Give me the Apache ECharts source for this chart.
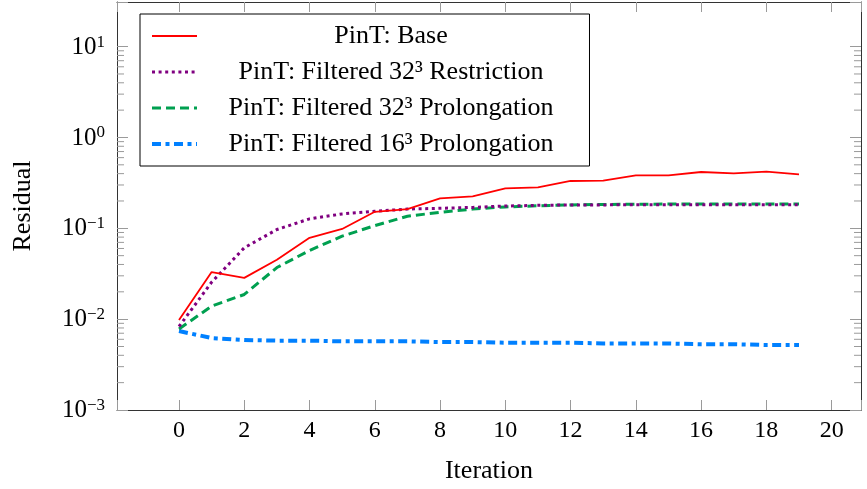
<!DOCTYPE html>
<html>
<head>
<meta charset="utf-8">
<script src="https://cdn.jsdelivr.net/npm/echarts@6/dist/echarts.min.js"></script>
<style>html,body{margin:0;padding:0;background:#fff;}#chart{width:867px;height:489px;}</style>
</head>
<body>
<div id="chart"></div>
<script>
// ---- data ----
const iterations = [0,1,2,3,4,5,6,7,8,9,10,11,12,13,14,15,16,17,18,19];
const seriesNames = ['PinT: Base', 'PinT: Filtered 32³ Restriction', 'PinT: Filtered 32³ Prolongation', 'PinT: Filtered 16³ Prolongation'];
const baseValues = [0.0098,0.0330,0.0285,0.0450,0.0785,0.0984,0.152,0.163,0.214,0.225,0.275,0.282,0.332,0.335,0.382,0.382,0.417,0.402,0.420,0.392];
const restr32Values = [0.0083,0.0255,0.061,0.097,0.127,0.144,0.154,0.163,0.166,0.170,0.176,0.179,0.181,0.181,0.182,0.182,0.182,0.182,0.182,0.182];
const prolong32Values = [0.0078,0.0139,0.0187,0.037,0.057,0.082,0.107,0.136,0.150,0.163,0.172,0.177,0.181,0.183,0.184,0.185,0.185,0.185,0.185,0.185];
const prolong16Values = [0.0074,0.0062,0.0059,0.0058,0.0058,0.0057,0.0057,0.0057,0.0056,0.0056,0.0055,0.0055,0.0055,0.0054,0.0054,0.0054,0.0053,0.0053,0.0052,0.0052];
const xLabelValues = [0,2,4,6,8,10,12,14,16,18,20];
const minorTickValues = [0.002,0.003,0.004,0.005,0.006,0.007,0.008,0.009,
  0.02,0.03,0.04,0.05,0.06,0.07,0.08,0.09,
  0.2,0.3,0.4,0.5,0.6,0.7,0.8,0.9,
  2,3,4,5,6,7,8,9];
const xAxisTitle = 'Iteration';
const yAxisTitle = 'Residual';

// ---- chart ----
const FONT = "'Liberation Serif', 'Times New Roman', serif";
const X_MIN = -1.9, X_MAX = 20.9, Y_MIN = 0.001, Y_MAX = 31;
const colors = ['#ff0000', '#800080', '#00a050', '#0080ff'];
const lineStyles = [
  {width: 1.8, type: 'solid'},
  {width: 3, type: [3, 3.6], cap: 'butt'},
  {width: 3, type: [9, 5], cap: 'butt'},
  {width: 4, type: [9, 4.5, 4, 4.5], cap: 'butt'}
];
const dataSets = [baseValues, restr32Values, prolong32Values, prolong16Values];

const chart = echarts.init(document.getElementById('chart'), null, {renderer: 'canvas'});

function pair(arr) { return iterations.map((x, k) => [x, arr[k]]); }

const lineSeries = seriesNames.map((name, i) => ({
  name: name,
  type: 'line',
  data: pair(dataSets[i]),
  symbol: 'none',
  showSymbol: false,
  color: colors[i],
  itemStyle: {color: colors[i]},
  lineStyle: Object.assign({color: colors[i]}, lineStyles[i]),
  z: 10 - i,
  silent: true
}));

const tickColor = '#9a9a9a';
const frameColor = '#333';

const xAxisBase = {
  type: 'value', min: X_MIN, max: X_MAX, splitNumber: 11,
  splitLine: {show: false},
  axisLine: {show: true, onZero: false, lineStyle: {color: frameColor, width: 1}},
  axisTick: {show: true, inside: true, length: 10, lineStyle: {color: tickColor, width: 1}},
};
const yAxisBase = {
  type: 'log', logBase: 10, min: Y_MIN, max: Y_MAX,
  splitLine: {show: false},
  axisLine: {show: true, onZero: false, lineStyle: {color: frameColor, width: 1}},
  axisTick: {show: true, inside: true, length: 11, lineStyle: {color: tickColor, width: 1}},
};

function isXLabel(v) { return xLabelValues.indexOf(Math.round(v * 1000) / 1000) >= 0; }

const option = {
  animation: false,
  backgroundColor: '#fff',
  grid: {left: 117, right: 6, top: 2, bottom: 79, containLabel: false},
  xAxis: [
    Object.assign({}, xAxisBase, {
      position: 'bottom',
      name: xAxisTitle, nameLocation: 'middle', nameGap: 48,
      nameTextStyle: {fontFamily: FONT, fontSize: 26, color: '#000'},
      axisLabel: {
        show: true, margin: 9, fontFamily: FONT, fontSize: 24, color: '#000',
        formatter: v => isXLabel(v) ? String(Math.round(v)) : ''
      }
    }),
    Object.assign({}, xAxisBase, {position: 'top', axisLabel: {show: false}})
  ],
  yAxis: [
    Object.assign({}, yAxisBase, {
      position: 'left',
      name: yAxisTitle, nameLocation: 'middle', nameGap: 81, nameRotate: 90,
      nameTextStyle: {fontFamily: FONT, fontSize: 26, color: '#000'},
      axisLabel: {
        show: true, margin: 12, color: '#000',
        formatter: v => {
          const e = Math.log10(v);
          const r = Math.round(e);
          if (Math.abs(e - r) > 1e-6) return '';
          const s = r < 0 ? '\u2212' + (-r) : String(r);
          return '{b|10}{s|' + s + '}';
        },
        rich: {
          b: {fontFamily: FONT, fontSize: 25, color: '#000', lineHeight: 26, verticalAlign: 'bottom'},
          s: {fontFamily: FONT, fontSize: 17, color: '#000', lineHeight: 17, verticalAlign: 'top'}
        }
      }
    }),
    Object.assign({}, yAxisBase, {position: 'right', axisLabel: {show: false}})
  ],
  legend: {
    show: true,
    data: seriesNames,
    orient: 'vertical',
    left: 140, top: 14,
    padding: [9, 36, 9, 10],
    itemWidth: 45, itemHeight: 20, itemGap: 10,
    itemStyle: {opacity: 0},
    lineStyle: {width: 'inherit'},
    backgroundColor: '#fff',
    borderColor: '#000', borderWidth: 1, borderRadius: 0,
    selectedMode: false,
    textStyle: {
      width: 378, color: '#000', fontFamily: FONT, fontSize: 26,
      rich: {
        t: {fontFamily: FONT, fontSize: 26, color: '#000', align: 'center', lineHeight: 24}
      }
    },
    formatter: name => '{t|' + name + '}'
  },
  series: lineSeries.concat([{
    type: 'custom',
    name: 'minorTicks',
    silent: true,
    clip: false,
    xAxisIndex: 0, yAxisIndex: 0,
    data: minorTickValues.map(v => [0, v]),
    renderItem: (params, api) => {
      const v = api.value(1);
      const pl = api.coord([X_MIN, v]);
      const pr = api.coord([X_MAX, v]);
      const st = {stroke: tickColor, lineWidth: 1};
      return {type: 'group', children: [
        {type: 'line', shape: {x1: pl[0], y1: pl[1], x2: pl[0] + 7, y2: pl[1]}, style: st},
        {type: 'line', shape: {x1: pr[0] - 7, y1: pr[1], x2: pr[0], y2: pr[1]}, style: st}
      ]};
    },
    z: 1
  }])
};
chart.setOption(option);
</script>
</body>
</html>
